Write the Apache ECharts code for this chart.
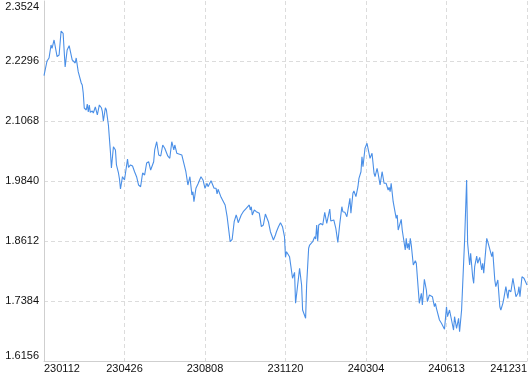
<!DOCTYPE html>
<html>
<head>
<meta charset="utf-8">
<script src="https://cdn.jsdelivr.net/npm/echarts@6/dist/echarts.min.js"></script>
<style>
html,body{margin:0;padding:0;background:#fff;}
#chart{width:530px;height:374px;}
</style>
</head>
<body>
<div id="chart"></div>
<script>
// x tick labels (trading dates), one every 80 trading days
const tickLabels = ['230112','230426','230808','231120','240304','240613','241231'];
const daysPerTick = 80;
// y axis ticks
const yMin = 1.6156, yMax = 2.3524, yStep = 0.1228;

// trading-day index of each observation
const dayIndex = [
0,3,5,7,8,10,13,15,17,19,21,23,25,28,29,31,32,34,35,37,38,39,40,42,43,44,45,46,48,49,
51,53,55,57,58,59,61,62,64,66,67,69,71,72,74,75,76,78,80,83,84,86,88,90,91,92,94,96,98,100,
102,104,106,109,110,112,114,116,118,120,121,123,125,127,129,130,132,134,137,139,141,142,143,145,147,148,149,151,153,156,
158,160,162,163,166,169,171,172,173,176,177,180,182,185,187,189,191,192,193,196,198,201,202,204,205,206,207,209,211,212,
214,216,218,220,223,225,228,230,231,233,235,237,239,240,241,244,245,247,249,250,254,256,257,258,260,261,263,264,267,269,
270,271,272,273,275,277,279,281,284,285,288,290,292,294,296,297,299,301,304,305,307,308,310,312,313,315,316,317,319,321,
322,324,326,328,329,331,332,334,336,338,340,342,343,344,345,347,350,351,352,355,356,359,360,361,362,363,364,365,367,369,
370,372,373,375,376,378,380,381,383,386,388,389,390,393,395,398,400,401,403,404,406,407,408,410,412,413,415,416,418,420,
421,422,423,424,426,427,428,430,431,433,435,436,437,440,441,442,445,446,448,449,451,453,454,456,457,459,461,462,464,466,
469,471,472,473,475,477,478,480
];
// value of each observation
const values = [
2.1995,2.2296,2.2358,2.2624,2.2556,2.2726,2.2384,2.2419,2.2910,2.2863,2.2173,2.2521,2.2609,2.2317,2.2351,2.2255,2.2358,2.2077,2.2044,2.1846,2.1805,2.1641,2.1334,2.1293,2.1416,2.1252,2.1396,2.1246,2.1273,2.1232,
2.1355,2.1191,2.1396,2.1340,2.1258,2.1068,2.1340,2.1293,2.0986,2.0440,2.0106,2.0542,2.0475,2.0168,2.0004,1.9881,1.9676,1.9928,1.9861,2.0290,2.0120,2.0168,2.0147,2.0030,2.0065,1.9928,1.9758,1.9723,2.0004,1.9963,
2.0208,2.0235,2.0065,2.0235,2.0475,2.0644,2.0372,2.0352,2.0577,2.0509,2.0542,2.0352,2.0305,2.0644,2.0475,2.0577,2.0407,2.0393,2.0372,2.0202,2.0030,2.0030,1.9758,1.9928,1.9554,1.9621,1.9416,1.9691,1.9779,1.9928,
1.9861,1.9691,1.9793,1.9723,1.9846,1.9691,1.9691,1.9574,1.9670,1.9506,1.9519,1.9349,1.9109,1.8598,1.8647,1.9007,1.9144,1.9077,1.8987,1.9144,1.9212,1.9281,1.9261,1.9349,1.9247,1.9314,1.9144,1.9247,1.9212,1.9247,
1.9179,1.8905,1.8940,1.9165,1.9007,1.8802,1.8633,1.8735,1.8802,1.8905,1.8987,1.8905,1.8700,1.8278,1.8393,1.8291,1.8258,1.7849,1.7971,1.7337,1.8053,1.7712,1.7200,1.7165,1.7030,1.7712,1.8463,1.8530,1.8598,1.8700,
1.8653,1.8940,1.8612,1.8940,1.8974,1.8940,1.9199,1.8974,1.9267,1.9021,1.9042,1.8872,1.8585,1.8974,1.9314,1.9212,1.9199,1.9109,1.9486,1.9179,1.9588,1.9635,1.9519,1.9723,1.9895,2.0030,2.0337,2.0133,2.0509,2.0612,
2.0577,2.0305,2.0407,1.9998,1.9928,2.0100,1.9998,1.9758,2.0030,1.9793,1.9793,1.9656,1.9711,1.9621,1.9793,1.9416,1.9077,1.9144,1.8837,1.9056,1.8837,1.8428,1.8667,1.8463,1.8565,1.8428,1.8667,1.8530,1.8121,1.8209,
1.8156,1.7609,1.7337,1.7542,1.7302,1.7828,1.7609,1.7370,1.7507,1.7472,1.7267,1.7337,1.7235,1.6995,1.6928,1.6805,1.7267,1.7063,1.7200,1.7200,1.6893,1.6790,1.7063,1.6825,1.7030,1.6756,1.7200,1.7200,1.8633,1.9861,
1.8565,1.8598,1.8121,1.8360,1.7881,1.7746,1.8086,1.8305,1.8156,1.8278,1.8018,1.8156,1.7951,1.8667,1.8598,1.8598,1.8291,1.8393,1.7814,1.7677,1.7814,1.7267,1.7200,1.7337,1.7439,1.7677,1.7439,1.7609,1.7574,1.7849,
1.7472,1.7542,1.7677,1.7472,1.7881,1.7849,1.7881,1.7712
];

const chart = echarts.init(document.getElementById('chart'), null, {renderer: 'canvas'});
const labelFont = {fontFamily: 'Liberation Sans, Arial, sans-serif', fontSize: 11, color: '#111'};
chart.setOption({
  animation: false,
  backgroundColor: '#fff',
  grid: {left: 44, right: 2, top: 1, bottom: 13, containLabel: false},
  xAxis: {
    type: 'value',
    min: 0,
    max: daysPerTick * (tickLabels.length - 1),
    interval: daysPerTick,
    axisLine: {show: true, lineStyle: {color: '#cfcfcf', width: 1}},
    axisTick: {show: false},
    splitLine: {show: true, lineStyle: {color: '#dcdcdc', type: [4, 3], width: 1}},
    axisLabel: Object.assign({
      margin: 2,
      alignMinLabel: 'left',
      alignMaxLabel: 'right',
      formatter: v => tickLabels[Math.round(v / daysPerTick)]
    }, labelFont)
  },
  yAxis: {
    type: 'value',
    min: yMin,
    max: yMax,
    interval: yStep,
    axisLine: {show: true, lineStyle: {color: '#cfcfcf', width: 1}},
    axisTick: {show: false},
    splitLine: {show: true, showMaxLine: false, lineStyle: {color: '#dcdcdc', type: [4, 3], width: 1}},
    axisLabel: Object.assign({
      margin: 5,
      verticalAlignMinLabel: 'bottom',
      verticalAlignMaxLabel: 'top',
      formatter: v => v.toFixed(4)
    }, labelFont)
  },
  series: [{
    type: 'line',
    data: dayIndex.map((d, i) => [d, values[i]]),
    showSymbol: false,
    symbol: 'none',
    lineStyle: {color: '#4a8fe7', width: 1.1},
    itemStyle: {color: '#4a8fe7'}
  }]
});
</script>
</body>
</html>
